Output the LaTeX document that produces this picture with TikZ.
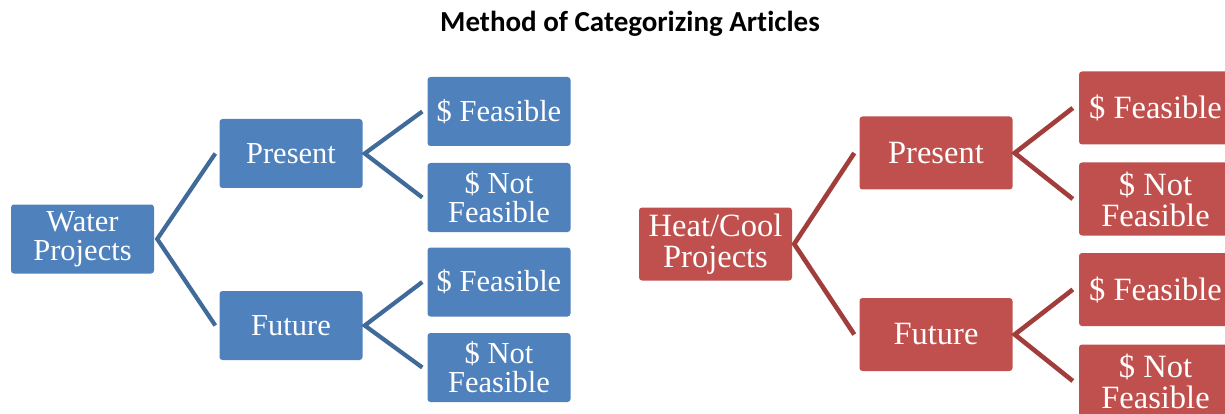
\documentclass[tikz,border=0pt]{standalone}
\usepackage{fontspec}
\setmainfont{Liberation Serif}
\newfontfamily\titlefont[Ligatures=NoCommon]{Carlito}
\usepackage{xcolor}
\usepackage{tikz}
\usetikzlibrary{positioning}
\definecolor{waterblue}{HTML}{4F81BD}
\definecolor{waterline}{HTML}{3F6A9A}
\definecolor{heatred}{HTML}{C0504D}
\definecolor{heatline}{HTML}{A13E3B}

\begin{document}
\begin{tikzpicture}[x=1pt,y=-1pt,
    bluebox/.style={fill=waterblue, text=white, rounded corners=3pt, inner sep=0pt,
      minimum width=143pt, minimum height=69pt, align=center,
      font=\fontsize{30.5pt}{29pt}\selectfont},
    redbox/.style={fill=heatred, text=white, rounded corners=3pt, inner sep=0pt,
      minimum width=153pt, minimum height=73pt, align=center,
      font=\fontsize{32.5pt}{31pt}\selectfont},
    bluelink/.style={draw=waterline, line width=4.2pt},
    redlink/.style={draw=heatline, line width=4.6pt}]
    \clip (0,0) rectangle (1225,414);
    \fill[white] (0,0) rectangle (1225,414);

    \node[anchor=base, font=\titlefont\bfseries\fontsize{29pt}{33pt}\selectfont] (T) at (630,32) {Method of Categorizing Articles};

    % water tree
    \node[bluebox] (W) at (82.5,239) {Water\\Projects};
    \node[bluebox] (P1) at (291,153.5) {Present};
    \node[bluebox] (F1) at (291,325.5) {Future};
    \node[bluebox] (L1) at (499,111.5) {\$ Feasible};
    \node[bluebox] (L2) at (499,197.5) {\$ Not\\Feasible};
    \node[bluebox] (L3) at (499,282) {\$ Feasible};
    \node[bluebox] (L4) at (499,367.5) {\$ Not\\Feasible};
    \path[bluelink] ([xshift=-4pt]P1.west) -- ([xshift=3pt]W.east) -- ([xshift=-4pt]F1.west);
    \path[bluelink] ([xshift=-5pt]L1.west) -- ([xshift=2pt]P1.east) -- ([xshift=-5pt]L2.west);
    \path[bluelink] ([xshift=-5pt]L3.west) -- ([xshift=2pt]F1.east) -- ([xshift=-5pt]L4.west);

    % heat/cool tree
    \node[redbox] (H) at (715.5,244) {Heat/Cool\\Projects};
    \node[redbox] (P2) at (936,153) {Present};
    \node[redbox] (F2) at (936,334.5) {Future};
    \node[redbox] (L5) at (1155.5,108) {\$ Feasible};
    \node[redbox] (L6) at (1155.5,199) {\$ Not\\Feasible};
    \node[redbox] (L7) at (1155.5,289.5) {\$ Feasible};
    \node[redbox] (L8) at (1155.5,381) {\$ Not\\Feasible};
    \path[redlink] ([xshift=-5pt]P2.west) -- ([xshift=2pt]H.east) -- ([xshift=-5pt]F2.west);
    \path[redlink] ([xshift=-6pt]L5.west) -- ([xshift=2pt]P2.east) -- ([xshift=-6pt]L6.west);
    \path[redlink] ([xshift=-6pt]L7.west) -- ([xshift=2pt]F2.east) -- ([xshift=-6pt]L8.west);
\end{tikzpicture}
\end{document}
